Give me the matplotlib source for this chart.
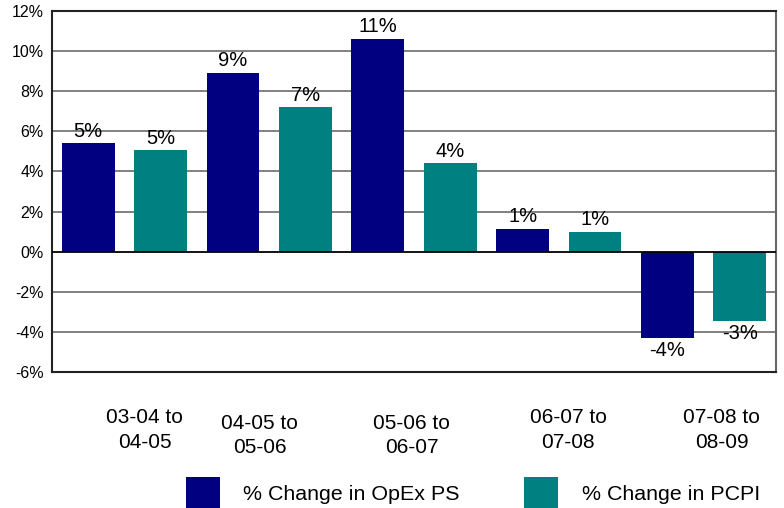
import matplotlib
matplotlib.use("Agg")
import matplotlib.pyplot as plt
import numpy as np
from matplotlib.patches import Patch

periods = ["03-04 to\n04-05", "04-05 to\n05-06", "05-06 to\n06-07",
           "06-07 to\n07-08", "07-08 to\n08-09"]
opex_ps = [5.4, 8.9, 10.6, 1.15, -4.3]
pcpi = [5.05, 7.2, 4.4, 1.0, -3.45]
series_names = ["% Change in OpEx PS", "% Change in PCPI"]
y_ticks = [-6, -4, -2, 0, 2, 4, 6, 8, 10, 12]

NAVY = "#000080"
TEAL = "#008080"

plt.rcParams["font.family"] = ["Liberation Sans", "DejaVu Sans"]

fig = plt.figure(figsize=(7.84, 5.08), dpi=100)
ax = fig.add_axes([0.0663, 0.2677, 0.9235, 0.7106])

n = len(periods)
idx = np.arange(n)
width = 0.73
x_opex = idx * 2
x_pcpi = idx * 2 + 1

bars1 = ax.bar(x_opex, opex_ps, width, color=NAVY, zorder=3)
bars2 = ax.bar(x_pcpi, pcpi, width, color=TEAL, zorder=3)

for bars in (bars1, bars2):
    for b in bars:
        v = b.get_height()
        xc = b.get_x() + b.get_width() / 2
        if v >= 0:
            ax.annotate(f"{v:.0f}%", (xc, v), xytext=(0, 2), textcoords="offset points",
                        ha="center", va="bottom", fontsize=14.5)
        else:
            ax.annotate(f"{v:.0f}%", (xc, v), xytext=(0, -2), textcoords="offset points",
                        ha="center", va="top", fontsize=14.5)

ax.set_xlim(-0.5, 2 * n - 0.5)
ax.set_ylim(-6, 12)
ax.set_yticks(y_ticks)
ax.set_yticklabels([f"{t}%" for t in y_ticks], fontsize=11.5)
ax.tick_params(axis="y", length=0, pad=6)

for t in y_ticks:
    if t == 0:
        ax.axhline(t, color="black", lw=1.3, zorder=4)
    elif t not in (-6, 12):
        ax.axhline(t, color="#808080", lw=1.4, zorder=1)

for s in ax.spines.values():
    s.set_color("#222222")
    s.set_linewidth(1.5)
ax.spines["right"].set_color("#666666")

# category labels sit a bit off the group centres in the original
label_shift = [0.28, -0.13, -0.03, 0.13, 0.25]
label_drop = [0, 4, 4, 0, 0]
ax.set_xticks([])
for i, lab in enumerate(periods):
    ax.annotate(lab, (2 * i + 0.5 + label_shift[i], -6), xytext=(0, -26 - label_drop[i]),
                textcoords="offset points", ha="center", va="top", fontsize=15,
                linespacing=1.38)

handles = [Patch(facecolor=NAVY), Patch(facecolor=TEAL)]
fig.legend(handles, series_names, loc="center", bbox_to_anchor=(0.603, 0.03), ncol=2,
           frameon=False, fontsize=15.4, handlelength=1.6, handleheight=1.9,
           handletextpad=1.1, columnspacing=3.0, borderpad=0.1)

fig.savefig("out.png", dpi=100)
